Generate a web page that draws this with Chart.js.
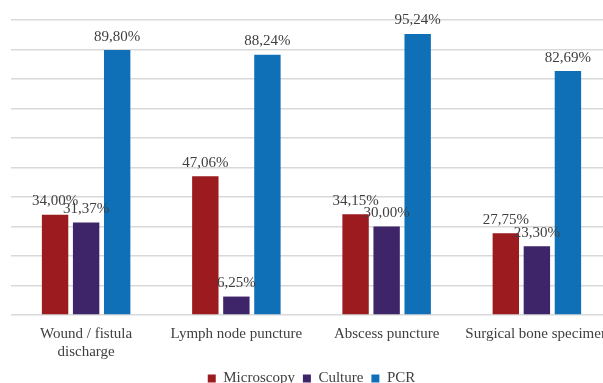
<!DOCTYPE html>
<html>
<head>
<meta charset="utf-8">
<script src="https://cdn.jsdelivr.net/npm/chart.js@4/dist/chart.umd.min.js"></script>
<style>
  html, body { margin: 0; padding: 0; background: #fff; overflow: hidden; }
  #wrap { width: 630px; height: 396px; }
</style>
</head>
<body>
<div id="wrap"><canvas id="chart"></canvas></div>
<script>
const categories = [['Wound / fistula', 'discharge'], 'Lymph node puncture', 'Abscess puncture', 'Surgical bone specimen'];
const microscopy = [34.00, 47.06, 34.15, 27.75];
const culture = [31.37, 6.25, 30.00, 23.30];
const pcr = [89.80, 88.24, 95.24, 82.69];

const serif = '"Liberation Serif", "Times New Roman", serif';

// value labels above each bar, with comma decimals
const valueLabels = {
  id: 'valueLabels',
  afterDatasetsDraw(chart) {
    const ctx = chart.ctx;
    ctx.save();
    ctx.font = '15px ' + serif;
    ctx.fillStyle = '#404040';
    ctx.textAlign = 'center';
    ctx.textBaseline = 'bottom';
    chart.data.datasets.forEach((ds, i) => {
      chart.getDatasetMeta(i).data.forEach((bar, j) => {
        const txt = ds.data[j].toFixed(2).replace('.', ',') + '%';
        ctx.fillText(txt, bar.x, bar.y - 6);
      });
    });
    ctx.restore();
  }
};

new Chart(document.getElementById('chart'), {
  type: 'bar',
  data: {
    labels: categories,
    datasets: [
      { label: 'Microscopy', data: microscopy, backgroundColor: '#9b1b1f' },
      { label: 'Culture', data: culture, backgroundColor: '#3e2468' },
      { label: 'PCR', data: pcr, backgroundColor: '#0f70b7' }
    ]
  },
  options: {
    responsive: true,
    maintainAspectRatio: false,
    animation: false,
    layout: { padding: { top: 20, left: 11, right: 18, bottom: 0 } },
    datasets: {
      bar: { categoryPercentage: 0.62, barPercentage: 0.85 }
    },
    scales: {
      x: {
        grid: { display: false },
        border: { display: false },
        ticks: {
          color: '#404040',
          font: { family: serif, size: 15 },
          padding: 2,
          maxRotation: 0,
          autoSkip: false
        }
      },
      y: {
        min: 0,
        max: 100,
        ticks: { display: false, stepSize: 10 },
        border: { display: false },
        grid: { color: '#d9d9d9', lineWidth: 1.5, drawTicks: false }
      }
    },
    plugins: {
      legend: {
        position: 'bottom',
        labels: {
          color: '#404040',
          font: { family: serif, size: 15 },
          boxWidth: 8,
          boxHeight: 8,
          padding: 8
        }
      },
      tooltip: { enabled: false }
    }
  },
  plugins: [valueLabels]
});
</script>
</body>
</html>
